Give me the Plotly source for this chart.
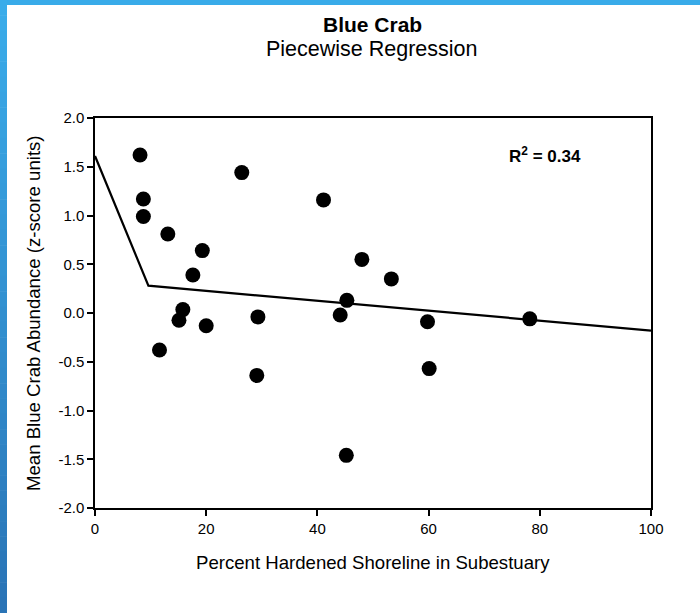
import plotly.graph_objects as go

# ---- data ----
pct_hardened = [8.1, 8.7, 8.7, 13.1, 19.3, 17.6, 15.8, 15.1, 11.6, 20.0, 26.4,
                29.3, 29.1, 41.1, 48.0, 53.3, 45.3, 44.1, 45.2, 59.8, 60.1, 78.2]
crab_abund = [1.62, 1.17, 0.99, 0.81, 0.64, 0.39, 0.035, -0.075, -0.38, -0.13, 1.44,
              -0.04, -0.64, 1.16, 0.55, 0.35, 0.13, -0.02, -1.46, -0.09, -0.57, -0.06]
fit_x = [0, 9.6, 100]
fit_y = [1.61, 0.28, -0.18]
x_ticks = [0, 20, 40, 60, 80, 100]
y_ticks = [-2.0, -1.5, -1.0, -0.5, 0.0, 0.5, 1.0, 1.5, 2.0]

W, H = 700, 613
L, R, T, B = 95, 49, 118, 105
pw, ph = W - L - R, H - T - B

def px_x(p):
    return (p - L) / pw

def px_y(p):
    return (H - B - p) / ph

FONT = "Liberation Sans, Arial, sans-serif"

fig = go.Figure()
fig.add_trace(go.Scatter(x=fit_x, y=fit_y, mode="lines",
                         line=dict(color="black", width=2.2), showlegend=False,
                         cliponaxis=False))
fig.add_trace(go.Scatter(x=pct_hardened, y=crab_abund, mode="markers",
                         marker=dict(color="black", size=15), showlegend=False))

shapes = []
# top blue band
shapes.append(dict(type="rect", xref="paper", yref="paper",
                   x0=px_x(0), x1=px_x(W), y0=px_y(5), y1=px_y(0),
                   fillcolor="#39abe9", line=dict(width=0), layer="above"))
# left blue band with vertical gradient
n = 40
c0 = (0x3a, 0xac, 0xea)
c1 = (0x2a, 0x74, 0xb6)
for i in range(n):
    t = i / (n - 1)
    c = tuple(int(round(a + (b - a) * t)) for a, b in zip(c0, c1))
    y0p = H * i / n
    y1p = H * (i + 1) / n
    shapes.append(dict(type="rect", xref="paper", yref="paper",
                       x0=px_x(0), x1=px_x(7), y0=px_y(y1p + 0.5), y1=px_y(y0p),
                       fillcolor="rgb(%d,%d,%d)" % c, line=dict(width=0), layer="above"))

annotations = [
    dict(text="<b>Blue Crab</b>", xref="paper", yref="paper",
         x=px_x(372), y=px_y(25), showarrow=False, xanchor="center", yanchor="middle",
         font=dict(size=21, color="black", family=FONT)),
    dict(text="Piecewise Regression", xref="paper", yref="paper",
         x=px_x(372), y=px_y(49), showarrow=False, xanchor="center", yanchor="middle",
         font=dict(size=21.5, color="black", family=FONT)),
    dict(text="<b>R<sup>2</sup> = 0.34</b>", xref="x", yref="y",
         x=80.9, y=1.62, showarrow=False, xanchor="center", yanchor="middle",
         font=dict(size=17, color="black", family=FONT)),
    dict(text="Percent Hardened Shoreline in Subestuary", xref="paper", yref="paper",
         x=px_x(372.5), y=px_y(562), showarrow=False, xanchor="center", yanchor="middle",
         font=dict(size=18.6, color="black", family=FONT)),
    dict(text="Mean Blue Crab Abundance (z-score units)", xref="paper", yref="paper",
         x=px_x(33), y=px_y(313), showarrow=False, xanchor="center", yanchor="middle",
         textangle=-90, font=dict(size=18.6, color="black", family=FONT)),
]

fig.update_layout(
    width=W, height=H,
    margin=dict(l=L, r=R, t=T, b=B, pad=0),
    paper_bgcolor="white", plot_bgcolor="white",
    font=dict(family=FONT, color="black", size=15),
    shapes=shapes, annotations=annotations,
    showlegend=False,
)
fig.update_xaxes(range=[0, 100], tickvals=x_ticks, ticktext=[str(v) for v in x_ticks],
                 showgrid=False, zeroline=False, showline=True, linecolor="black",
                 linewidth=1.5, mirror=True, ticks="outside", ticklen=6, tickwidth=1.5,
                 tickcolor="black", tickfont=dict(size=15), automargin=False)
fig.update_yaxes(range=[-2, 2], tickvals=y_ticks, ticktext=["%.1f" % v for v in y_ticks],
                 showgrid=False, zeroline=False, showline=True, linecolor="black",
                 linewidth=1.5, mirror=True, ticks="outside", ticklen=6, tickwidth=1.5,
                 tickcolor="black", tickfont=dict(size=15), automargin=False)

fig.write_html("out.html")
